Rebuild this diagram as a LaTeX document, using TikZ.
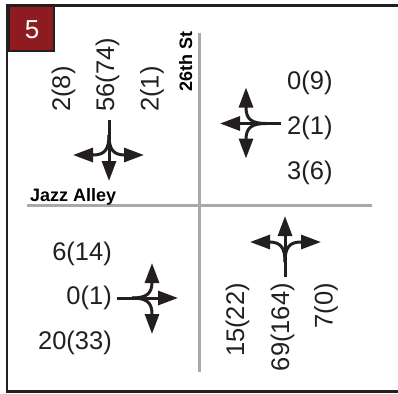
\documentclass[tikz,border=0pt]{standalone}
\usepackage{fontspec}
\setmainfont{Liberation Sans}
\usetikzlibrary{arrows.meta}
\definecolor{framedark}{HTML}{231F20}
\definecolor{badgered}{HTML}{8E1B20}
\definecolor{roadgray}{HTML}{A7A9AC}
\tikzset{
  count/.style={inner sep=0pt, font=\fontsize{25.5}{30}\selectfont, text=framedark},
  street/.style={inner sep=0pt, font=\fontsize{18}{21}\selectfont\bfseries, text=black},
  move/.style={line width=3pt, draw=framedark, -{Triangle[length=20pt,width=14pt]}},
  road/.style={line width=3pt, draw=roadgray},
  % turning-movement symbol: approach leg from the top, through + left + right
  pics/turns/.style={code={
    \draw[move] (0,-35) -- (0,26);
    \draw[move] (0,-20) .. controls (0,-6) and (-4,0) .. (-16,0) -- (-36,0);
    \draw[move] (0,-20) .. controls (0,-6) and (4,0) .. (16,0) -- (35,0);
  }}
}
\begin{document}
\begin{tikzpicture}[x=1pt,y=-1pt]
\useasboundingbox (0,0) rectangle (398,393);

% outer frame (right side runs off the page)
\draw[line width=2.5pt, framedark] (402,5.3) -- (7,5.3) -- (7,391.7) -- (402,391.7);

% streets
\coordinate (nEnd) at (199.5,33);
\coordinate (sEnd) at (199.5,372);
\coordinate (wEnd) at (27,205);
\coordinate (eEnd) at (372,205);
\draw[road] (nEnd) -- (sEnd);
\draw[road] (wEnd) -- (eEnd);

% intersection badge
\node[draw=framedark, line width=2pt, fill=badgered, minimum width=45pt, minimum height=45pt, inner sep=0pt, anchor=north west] (badge) at (8,5) {};
\node[inner sep=0pt, anchor=base, text=white, font=\fontsize{26}{30}\selectfont] (num) at (32,38.5) {5};

% street names
\node[street, rotate=90, anchor=base west] (st26) at (192,92) {26th St};
\node[street, anchor=base west] (jazz) at (30,201.5) {Jazz Alley};

% movements
\pic (tl) at (109,155) {turns};
\pic[rotate=-90] (tr) at (246,123.5) {turns};
\pic[rotate=90] (bl) at (152,298) {turns};
\pic[rotate=180] (br) at (285,242) {turns};

% southbound volumes
\node[count, rotate=90, anchor=base west] (sbR) at (70,112) {2(8)};
\node[count, rotate=90, anchor=base west] (sbT) at (114,112) {56(74)};
\node[count, rotate=90, anchor=base west] (sbL) at (158.5,112) {2(1)};

% westbound volumes
\node[count, anchor=base west] (wbL) at (287,90) {0(9)};
\node[count, anchor=base west] (wbT) at (287,134) {2(1)};
\node[count, anchor=base west] (wbR) at (287,179) {3(6)};

% eastbound volumes
\node[count, anchor=base east] (ebL) at (112,260) {6(14)};
\node[count, anchor=base east] (ebT) at (112,304.5) {0(1)};
\node[count, anchor=base east] (ebR) at (112,349) {20(33)};

% northbound volumes
\node[count, rotate=90, anchor=base east] (nbL) at (244,283) {15(22)};
\node[count, rotate=90, anchor=base east] (nbT) at (289,283) {69(164)};
\node[count, rotate=90, anchor=base east] (nbR) at (332.5,283) {7(0)};
\end{tikzpicture}
\end{document}
